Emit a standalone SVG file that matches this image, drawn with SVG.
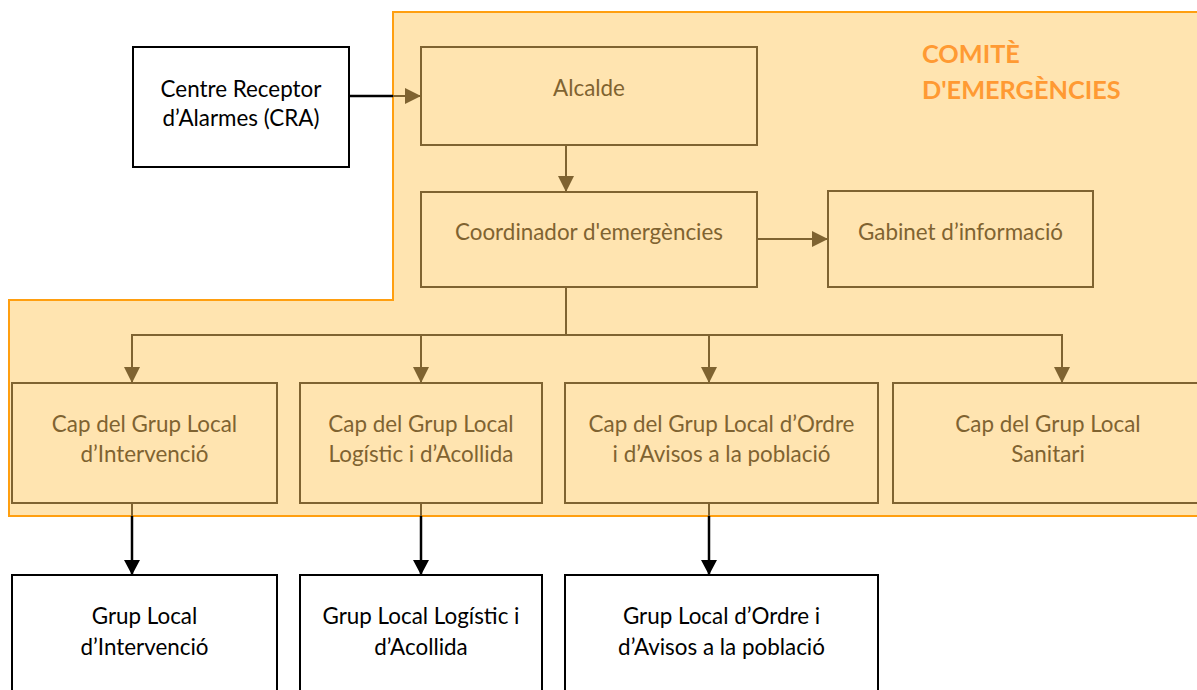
<svg xmlns="http://www.w3.org/2000/svg" width="1197" height="690" viewBox="0 0 1197 690">
<style>
.bx{fill:#FFE4B0;stroke:#7F6331;stroke-width:2}
.wb{fill:#fff;stroke:#000;stroke-width:2}
.t{font-family:Lato,"Open Sans",sans-serif;font-size:22.4px;text-anchor:middle}
.br{fill:#7F6331}
.bk{fill:#000}
.ln{fill:none;stroke:#7F6331;stroke-width:2}
.lk{fill:none;stroke:#000;stroke-width:2.5}
.title{font-family:Lato,"Open Sans",sans-serif;font-size:25.3px;font-weight:bold;fill:#FF9A33}
</style>
<defs>
<marker id="ab" markerUnits="userSpaceOnUse" markerWidth="17" markerHeight="17" refX="16" refY="8" orient="auto"><path d="M0,0 L16,8 L0,16 Z" fill="#7F6331"/></marker>
<marker id="ak" markerUnits="userSpaceOnUse" markerWidth="17" markerHeight="17" refX="15" refY="8" orient="auto"><path d="M0,0 L15,8 L0,16 Z" fill="#000"/></marker>
</defs>
<g id="comite">
<path d="M393,12 L1200,12 L1200,516 L9,516 L9,300 L393,300 Z" fill="#FFE4B0" stroke="#FF9F10" stroke-width="2"/>
<text class="title" x="922" y="63">COMITÈ</text>
<text class="title" x="922" y="99">D'EMERGÈNCIES</text>
</g>
<g id="cra"><rect class="wb" x="133" y="47" width="216" height="120"/>
<text class="t bk" x="241" y="97">Centre Receptor</text><text class="t bk" x="241" y="126">d’Alarmes (CRA)</text></g>
<g id="alcalde"><rect class="bx" x="421" y="47" width="336" height="98"/><text class="t br" x="589" y="96">Alcalde</text></g>
<g id="coordinador"><rect class="bx" x="421" y="192" width="336" height="95"/><text class="t br" x="589" y="240">Coordinador d'emergències</text></g>
<g id="gabinet"><rect class="bx" x="828" y="191" width="265" height="96"/><text class="t br" x="960.5" y="240">Gabinet d’informació</text></g>
<g id="cap1"><rect class="bx" x="12" y="383" width="265" height="120"/><text class="t br" x="144.5" y="432">Cap del Grup Local</text><text class="t br" x="144.5" y="462">d’Intervenció</text></g>
<g id="cap2"><rect class="bx" x="300" y="383" width="242" height="120"/><text class="t br" x="421" y="432">Cap del Grup Local</text><text class="t br" x="421" y="462">Logístic i d’Acollida</text></g>
<g id="cap3"><rect class="bx" x="565" y="383" width="313" height="120"/><text class="t br" x="721.5" y="432">Cap del Grup Local d’Ordre</text><text class="t br" x="721.5" y="462">i d’Avisos a la població</text></g>
<g id="cap4"><rect class="bx" x="893" y="383" width="310" height="120"/><text class="t br" x="1048" y="432">Cap del Grup Local</text><text class="t br" x="1048" y="462">Sanitari</text></g>
<g id="grup1"><rect class="wb" x="12" y="575" width="265" height="130"/><text class="t bk" x="144.5" y="624">Grup Local</text><text class="t bk" x="144.5" y="655">d’Intervenció</text></g>
<g id="grup2"><rect class="wb" x="300" y="575" width="242" height="130"/><text class="t bk" x="421" y="624">Grup Local Logístic i</text><text class="t bk" x="421" y="655">d’Acollida</text></g>
<g id="grup3"><rect class="wb" x="565" y="575" width="313" height="130"/><text class="t bk" x="721.5" y="624">Grup Local d’Ordre i</text><text class="t bk" x="721.5" y="655">d’Avisos a la població</text></g>
<g id="connectors">
<line class="lk" x1="349" y1="96" x2="393" y2="96"/>
<line class="ln" x1="393" y1="96" x2="421" y2="96" marker-end="url(#ab)"/>
<line class="ln" x1="566" y1="145" x2="566" y2="192" marker-end="url(#ab)"/>
<line class="ln" x1="757" y1="239" x2="828" y2="239" marker-end="url(#ab)"/>
<polyline class="ln" points="566,287 566,335"/>
<line class="ln" x1="131" y1="335" x2="1063" y2="335"/>
<line class="ln" x1="132" y1="335" x2="132" y2="383" marker-end="url(#ab)"/>
<line class="ln" x1="421" y1="335" x2="421" y2="383" marker-end="url(#ab)"/>
<line class="ln" x1="709" y1="335" x2="709" y2="383" marker-end="url(#ab)"/>
<line class="ln" x1="1062" y1="335" x2="1062" y2="383" marker-end="url(#ab)"/>
<line class="ln" x1="132" y1="503" x2="132" y2="516"/>
<line class="ln" x1="421" y1="503" x2="421" y2="516"/>
<line class="ln" x1="709" y1="503" x2="709" y2="516"/>
<line class="lk" x1="132" y1="516" x2="132" y2="575" marker-end="url(#ak)"/>
<line class="lk" x1="421" y1="516" x2="421" y2="575" marker-end="url(#ak)"/>
<line class="lk" x1="709" y1="516" x2="709" y2="575" marker-end="url(#ak)"/>
</g>
</svg>
